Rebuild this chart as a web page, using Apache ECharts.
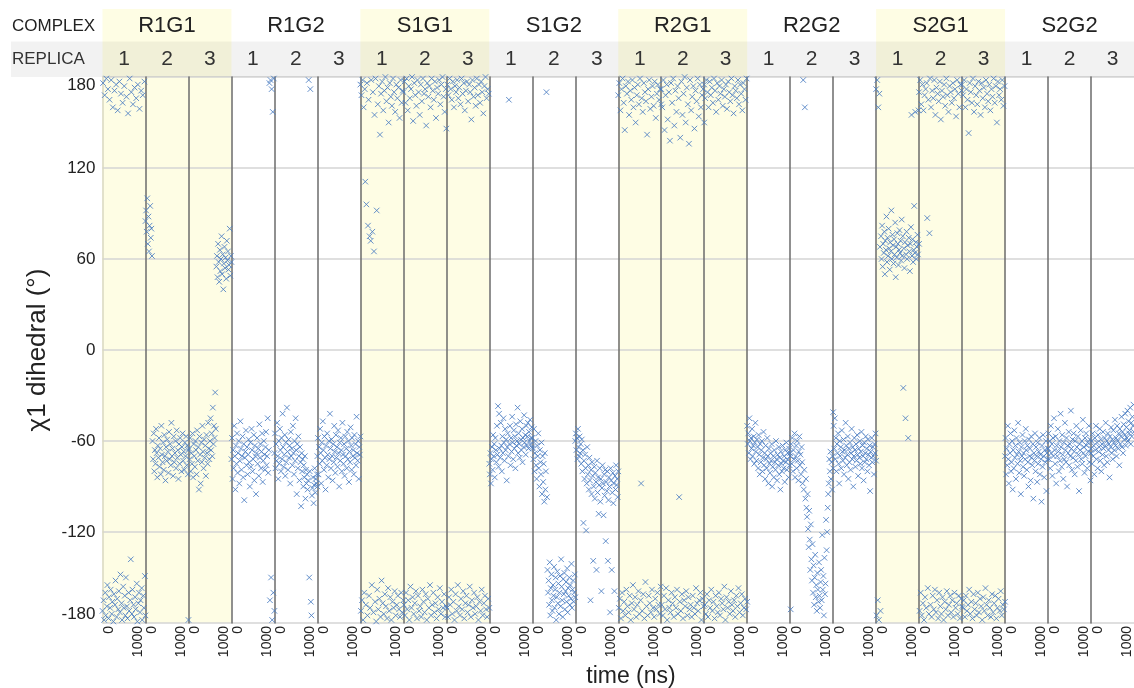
<!DOCTYPE html>
<html><head><meta charset="utf-8">
<script src="https://cdn.jsdelivr.net/npm/echarts@6/dist/echarts.min.js"></script>
<style>html,body{margin:0;padding:0;background:#fff}#c{width:1134px;height:688px}</style>
</head><body><div id="c"></div>
<script>
const complexes = ['R1G1','R1G2','S1G1','S1G2','R2G1','R2G2','S2G1','S2G2'];
const replicas = ['1','2','3'];
const highlighted = ['R1G1','S1G1','R2G1','S2G1'];
const timeTicks = [0, 1000];

const R1G1_1 = [-172,176,-165,-178,168,-160,-175,179,-169,-155,172,-177,-163,165,-170,-158,178,-174,-166,160,
 -179,-161,171,-168,-152,175,-176,-164,158,-171,-159,177,-173,-148,169,-167,-178,163,-156,-170,
 174,-162,-175,-150,167,-169,-177,156,-160,-172,179,-165,-138,170,-174,-158,162,-168,-176,173,
 -163,-171,166,-154,-179,175,-167,-160,159,-173,-165,171,-157,-178,168,-162,-170,177,-149,-175];
const R1G1_2 = [85,92,78,100,70,88,65,82,95,74,80,62,-60,-72,-55,-80,-66,-75,-52,-68,
 -84,-63,-71,-58,-77,-65,-82,-50,-69,-74,-61,-79,-56,-70,-86,-64,-73,-59,-67,-81,
 -54,-72,-62,-76,-48,-70,-65,-83,-57,-74,-68,-60,-78,-53,-71,-66,-85,-62,-75,-58,
 -69,-80,-64,-55,-73,-67,-79,-61,-70,-57,-76,-63,-82,-66];
const R1G1_3 = [-178,-65,-72,-58,-80,-68,-75,-55,-84,-62,-70,-77,-60,-66,-82,-53,-73,-64,-92,-57,
 -69,-88,-61,-74,-50,-67,-78,-59,-71,-63,-83,-56,-68,-75,-48,-65,-72,-60,-45,-66,
 -55,-70,-38,-62,-50,-58,-28,-52,55,62,48,70,58,45,66,52,60,75,50,63,
 40,57,68,54,61,47,72,59,65,53,56,80,49,62,58];
const R1G2_1 = [-72,-58,-85,-66,-78,-50,-70,-92,-63,-75,-55,-81,-68,-60,-88,-73,-47,-65,-79,-70,
 -57,-84,-62,-99,-71,-67,-53,-76,-64,-82,-69,-59,-74,-90,-61,-77,-52,-66,-80,-72,
 -56,-86,-63,-70,-95,-68,-58,-75,-65,-83,-49,-71,-62,-78,-67,-55,-87,-73,-60,-69,
 -79,-64,-54,-76,-70,-45,-81,-66,176,-165,178,-150,172,-178,157,-160,179,-172];
const R1G2_2 = [-68,-55,-78,-62,-73,-48,-70,-85,-60,-75,-52,-66,-80,-58,-72,-42,-64,-77,-69,-56,
 -83,-61,-74,-38,-67,-79,-59,-71,-63,-88,-54,-70,-65,-76,-50,-68,-82,-60,-73,-45,
 -66,-95,-62,-78,-57,-70,-86,-64,-74,-103,-68,-80,-72,-90,-76,-84,-70,-98,-79,-88,
 -82,-92,-86,178,-150,-80,172,-166,-175,-96,-91,-84,-101,-89,-78,-94,-85,-88,-82,-90];
const R1G2_3 = [-70,-58,-82,-64,-75,-52,-68,-88,-61,-73,-47,-66,-79,-57,-71,-92,-63,-76,-55,-69,
 -84,-60,-72,-42,-65,-78,-59,-70,-86,-62,-74,-50,-67,-81,-56,-71,-64,-77,-53,-68,
 -90,-61,-73,-58,-66,-80,-48,-69,-75,-62,-83,-57,-70,-65,-78,-54,-72,-60,-87,-67,
 -74,-51,-63,-79,-58,-70,-66,-82,-56,-71,-62,-76,-44,-68,-73,-60,-85,-64,-69,-57];
const S1G1_1 = [175,-172,168,-165,178,-178,160,-160,172,111,-168,96,176,-175,82,165,-162,75,-170,72,
 178,-155,78,170,-173,65,155,-166,179,-179,92,-158,162,-171,174,-164,142,-176,169,-152,
 177,-167,158,-174,171,-161,180,-169,164,-177,173,-157,150,-172,176,-163,167,-178,161,-166,
 179,-170,170,-159,157,-175,175,-168,166,-162,173,-171,153,-176,178,-160,163,-173,171,-165];
const S1G1_2 = [170,-168,177,-175,163,-160,179,-171,158,-165,174,-178,166,-156,172,-170,180,-163,151,-174,
 176,-167,168,-159,161,-177,178,-162,170,-172,155,-169,175,-176,164,-158,179,-166,169,-173,
 172,-161,148,-178,176,-164,167,-170,174,-155,160,-175,179,-168,171,-160,165,-173,177,-167,
 153,-177,173,-163,169,-171,178,-157,162,-174,175,-166,180,-170,167,-161,157,-176,172,-169];
const S1G1_3 = [146,-170,175,-176,168,-163,179,-168,172,-158,165,-174,177,-166,160,-178,174,-161,170,-172,
 178,-155,166,-169,173,-175,162,-164,179,-171,169,-159,176,-177,158,-167,171,-162,177,-173,
 164,-168,175,-156,170,-176,152,-165,178,-170,167,-160,173,-174,161,-169,179,-163,168,-178,
 175,-166,163,-172,177,-158,170,-175,156,-167,174,-162,180,-171,166,-176,172,-164,169,-170];
const S1G2_1 = [-75,-82,-68,-88,-72,-64,-79,-56,-70,-62,-84,-58,-66,-74,-50,-69,-37,-77,-42,-65,
 -71,-48,-63,-80,-57,-68,-45,-61,-73,-52,-66,-59,-86,-64,-55,-70,165,-62,-50,-76,
 -58,-67,-44,-61,-72,-53,-65,-57,-78,-49,-63,-60,-38,-68,-55,-62,-71,-47,-59,-66,
 -52,-74,-58,-64,-43,-61,-56,-69,-50,-63,-57,-48,-65,-54,-60,-46,-62,-58,-51,-64];
const S1G2_2 = [-58,-65,-72,-52,-80,-68,-60,-76,-85,-63,-70,-55,-78,-90,-66,-74,-82,-61,-95,-70,
 -87,-75,-100,-68,-92,-80,170,-97,-145,-160,-152,-168,-140,-175,-157,-148,-165,-172,-155,-162,
 -143,-170,-158,-150,-178,-163,-146,-167,-154,-174,-160,-149,-169,-138,-156,-165,-176,-151,-161,-147,
 -171,-159,-153,-166,-144,-173,-157,-162,-150,-168,-155,-164,-141,-170,-158,-152,-166,-160,-148,-163];
const S1G2_3 = [-60,-55,-66,-58,-72,-52,-64,-70,-57,-68,-62,-75,-59,-80,-66,-114,-73,-85,-69,-78,
 -119,-88,-64,-82,-76,-92,-71,-86,-165,-79,-95,-74,-83,-139,-90,-77,-98,-81,-87,-145,
 -73,-94,-84,-108,-89,-78,-100,-85,-159,-91,-76,-88,-109,-82,-96,-79,-126,-87,-93,-80,
 -139,-99,-84,-90,-173,-78,-86,-145,-94,-81,-101,-88,-159,-83,-92,-76,-89,-85,-97,-80];
const R2G1_1 = [168,-170,176,-164,158,-177,172,-160,179,-172,163,-166,145,-175,174,-158,169,-169,177,-173,
 155,-162,171,-178,165,-167,178,-155,160,-171,173,-163,150,-176,168,-168,175,-159,162,-174,
 179,-165,-88,166,-172,157,-161,176,-177,170,-153,164,-169,142,-175,172,-162,178,-167,159,
 -173,167,-158,174,-170,161,-176,177,-164,153,-171,169,-160,175,-168,165,-174,172,-156,162];
const R2G1_2 = [172,-168,160,-175,178,-162,145,-171,168,-157,175,-178,152,-165,170,-170,138,-173,176,-160,
 163,-167,179,-176,148,-163,171,-170,157,-158,174,-174,166,-97,-166,140,-172,177,-161,155,
 -177,169,-165,180,-169,150,-159,173,-175,162,-163,136,-171,178,-168,158,-176,167,-162,174,
 -170,146,-174,171,-157,164,-167,179,-172,154,-165,175,-160,160,-178,168,-164,172,-169,150];
const R2G1_3 = [175,-168,166,-174,178,-161,170,-176,160,-165,177,-170,168,-158,173,-172,163,-166,179,-177,
 171,-162,157,-169,176,-173,165,-160,174,-175,169,-164,178,-167,161,-171,172,-156,167,-178,
 175,-163,159,-170,177,-166,170,-174,164,-159,179,-168,168,-172,156,-165,174,-176,171,-162,
 166,-169,178,-157,162,-173,175,-167,169,-161,158,-175,176,-170,172,-164,165,-171,179,-166];
const R2G2_1 = [-50,-62,-55,-68,-45,-60,-72,-58,-65,-52,-70,-63,-57,-75,-61,-48,-67,-73,-59,-64,
 -78,-56,-69,-82,-62,-74,-66,-60,-80,-71,-54,-76,-68,-85,-63,-72,-78,-58,-70,-88,
 -65,-75,-81,-68,-73,-62,-90,-77,-70,-84,-66,-74,-79,-60,-72,-86,-69,-76,-64,-82,
 -71,-92,-67,-75,-80,-63,-73,-78,-70,-87,-66,-74,-61,-79,-72,-68,-84,-65,-76,-70];
const R2G2_2 = [-68,-171,-62,-75,-58,-80,-66,-72,-55,-84,-70,-63,-78,-60,-73,-86,-67,-57,-76,-69,
 -82,-64,-74,-88,178,-92,-79,160,-98,-85,-104,-110,-95,-118,-130,-106,-125,-145,-115,-138,
 -152,-128,-160,-142,-168,-150,-135,-163,-155,-172,-147,-158,-166,-140,-162,-170,-153,-145,-165,-122,
 -158,-149,-175,-137,-161,-154,-112,-132,-120,-104,-95,-88,-72,-80,-67,-85,-74,-92,-70,-78];
const R2G2_3 = [-41,-50,-65,-45,-72,-58,-80,-62,-68,-55,-75,-88,-60,-70,-64,-78,-53,-67,-73,-59,
 -82,-66,-71,-48,-63,-76,-69,-57,-85,-65,-74,-61,-79,-68,-52,-72,-64,-90,-70,-58,
 -66,-77,-62,-73,-56,-69,-83,-65,-71,-60,-75,-67,-54,-78,-63,-70,-86,-61,-74,-68,
 -57,-72,-65,-80,-59,-69,-76,-63,-93,-67,-71,-58,-74,-64,-70,-82,-62,-68,-55,-73];
const S2G1_1 = [172,-175,178,-165,160,-178,169,68,-172,75,60,82,55,70,64,78,50,72,66,88,
 58,74,62,80,67,53,71,65,92,60,76,69,57,73,63,84,48,68,61,77,
 70,56,66,79,64,72,59,86,62,75,-25,67,54,71,-45,63,78,60,69,-58,
 74,65,52,70,81,155,62,73,58,66,95,64,157,71,60,68,76,63,158,70];
const S2G1_2 = [170,-172,178,-160,162,-175,175,-167,158,-178,168,-163,172,-170,176,87,-157,165,-174,77,
 179,-168,160,-176,171,-162,166,-171,178,-158,155,-173,173,-165,169,-177,164,-160,177,-169,
 152,-174,171,-163,167,-178,175,-166,161,-171,179,-159,168,-175,157,-168,174,-162,170,-173,
 163,-165,176,-176,166,-160,172,-170,154,-167,178,-174,169,-162,160,-177,175,-164,171,-169];
const S2G1_3 = [175,-170,168,-165,178,-176,160,-162,172,-172,165,-168,143,-158,176,-174,170,-166,163,-177,
 179,-161,157,-171,174,-167,168,-175,162,-160,177,-173,171,-164,155,-169,176,-178,166,-163,
 173,-172,160,-157,178,-168,169,-175,164,-165,175,-170,158,-176,172,-161,167,-173,179,-167,
 163,-162,174,-177,150,-170,177,-164,168,-172,172,-159,165,-175,178,-168,161,-171,174,-166];
const S2G2_1 = [-70,-58,-82,-65,-76,-50,-72,-88,-62,-68,-55,-80,-74,-60,-92,-66,-78,-53,-71,-63,
 -85,-58,-69,-75,-48,-67,-81,-61,-73,-95,-64,-70,-56,-77,-68,-83,-60,-72,-52,-66,
 -79,-63,-74,-90,-59,-70,-65,-86,-57,-71,-76,-62,-98,-68,-73,-55,-80,-64,-70,-87,
 -61,-75,-67,-58,-82,-69,-72,-100,-63,-77,-56,-70,-84,-66,-74,-60,-93,-68,-72,-65];
const S2G2_2 = [-65,-55,-72,-60,-78,-50,-68,-62,-83,-58,-70,-45,-66,-75,-57,-88,-63,-70,-52,-67,
 -80,-60,-73,-42,-64,-77,-56,-69,-85,-61,-72,-48,-66,-74,-58,-90,-63,-68,-54,-76,
 -62,-70,-40,-65,-79,-59,-71,-55,-67,-82,-60,-73,-50,-64,-77,-57,-69,-93,-62,-66,
 -53,-72,-60,-75,-46,-68,-64,-81,-58,-70,-55,-63,-78,-61,-67,-50,-74,-59,-86,-65];
const S2G2_3 = [-68,-60,-75,-55,-70,-63,-82,-58,-66,-50,-72,-61,-78,-56,-67,-64,-52,-73,-59,-80,
 -62,-69,-54,-65,-76,-58,-63,-48,-70,-60,-74,-55,-66,-62,-84,-57,-64,-51,-68,-59,
 -72,-53,-61,-66,-46,-63,-58,-70,-50,-60,-65,-55,-76,-52,-62,-57,-44,-64,-54,-68,
 -49,-59,-56,-42,-63,-51,-58,-40,-60,-47,-55,-53,-38,-62,-48,-57,-44,-50,-36,-54];

const panels = [R1G1_1,R1G1_2,R1G1_3,R1G2_1,R1G2_2,R1G2_3,S1G1_1,S1G1_2,S1G1_3,S1G2_1,S1G2_2,S1G2_3,
  R2G1_1,R2G1_2,R2G1_3,R2G2_1,R2G2_2,R2G2_3,S2G1_1,S2G1_2,S2G1_3,S2G2_1,S2G2_2,S2G2_3];

const FONT = '"Liberation Sans", Arial, sans-serif';
const PL = 102.5, PR = 1134, TOP = 77, H = 546;
const N = complexes.length * replicas.length;
const W = (PR - PL) / N;
const YELLOW = '#fefde4';

const grids = [], xAxes = [], yAxes = [], series = [];
for (let i = 0; i < N; i++) {
  const cx = complexes[Math.floor(i / 3)];
  const hl = highlighted.includes(cx);
  grids.push({left: PL + i * W, top: TOP, width: W, height: H, show: hl,
    backgroundColor: YELLOW, borderWidth: 0});
  xAxes.push({gridIndex: i, type: 'value', min: timeTicks[0], max: timeTicks[1], interval: timeTicks[1],
    axisLine: {show: false}, axisTick: {show: false}, splitLine: {show: false},
    axisLabel: {rotate: 90, fontSize: 14, color: '#222', margin: 3, fontFamily: FONT,
      formatter: v => String(v),
      verticalAlignMinLabel: 'top', verticalAlignMaxLabel: 'bottom'}});
  yAxes.push({gridIndex: i, type: 'value', min: -180, max: 180, interval: 60,
    axisLine: {show: true, lineStyle: {color: i === 0 ? '#d9d7c2' : '#6b6b6b', width: 1.5}},
    axisTick: {show: false},
    splitLine: {show: true, lineStyle: {color: '#d4d4d4', width: 1.5}},
    axisLabel: {show: i === 0, fontSize: 17, color: '#222', margin: 7, fontFamily: FONT,
      verticalAlignMaxLabel: 'top', verticalAlignMinLabel: 'bottom'},
    name: i === 0 ? 'χ1 dihedral (°)' : '', nameLocation: 'middle', nameGap: 52,
    nameTextStyle: {fontSize: 26, color: '#222', fontFamily: FONT}});
  const arr = panels[i];
  series.push({type: 'scatter', xAxisIndex: i, yAxisIndex: i,
    data: arr.map((v, k) => [k * timeTicks[1] / (arr.length - 1), v]),
    symbol: 'path://M0,0L10,10M10,0L0,10', symbolSize: 5.5,
    itemStyle: {color: 'rgba(0,0,0,0)', borderColor: '#4a7cc2', borderWidth: 1, opacity: 0.85},
    silent: true, clip: false});
}

const graphic = [];
complexes.forEach((c, j) => {
  const x0 = PL + j * 3 * W;
  if (highlighted.includes(c)) {
    graphic.push({type: 'rect', z: 0, shape: {x: x0, y: 9, width: 3 * W, height: TOP - 9}, style: {fill: YELLOW}});
  }
});
graphic.push({type: 'rect', z: 1, shape: {x: 11, y: 41.5, width: PR - 11, height: TOP - 41.5}, style: {fill: 'rgba(0,0,0,0.05)'}});
complexes.forEach((c, j) => {
  graphic.push({type: 'text', z: 2, x: PL + (j * 3 + 1.5) * W, y: 26,
    style: {text: c, fontSize: 22, fontFamily: FONT, fill: '#222', textAlign: 'center', textVerticalAlign: 'middle'}});
  replicas.forEach((r, k) => {
    graphic.push({type: 'text', z: 2, x: PL + (j * 3 + k + 0.5) * W, y: 59,
      style: {text: r, fontSize: 21, fontFamily: FONT, fill: '#333', textAlign: 'center', textVerticalAlign: 'middle'}});
  });
});
graphic.push({type: 'text', z: 2, x: 12, y: 26, style: {text: 'COMPLEX', fontSize: 17, fontFamily: FONT, fill: '#222', textAlign: 'left', textVerticalAlign: 'middle'}});
graphic.push({type: 'text', z: 2, x: 12, y: 59, style: {text: 'REPLICA', fontSize: 17, fontFamily: FONT, fill: '#333', textAlign: 'left', textVerticalAlign: 'middle'}});
graphic.push({type: 'text', z: 2, x: 631, y: 677, style: {text: 'time (ns)', fontSize: 23, fontFamily: FONT, fill: '#222', textAlign: 'center', textVerticalAlign: 'middle'}});

const chart = echarts.init(document.getElementById('c'), null, {renderer: 'canvas'});
chart.setOption({animation: false, grid: grids, xAxis: xAxes, yAxis: yAxes, series: series, graphic: graphic});
</script></body></html>
